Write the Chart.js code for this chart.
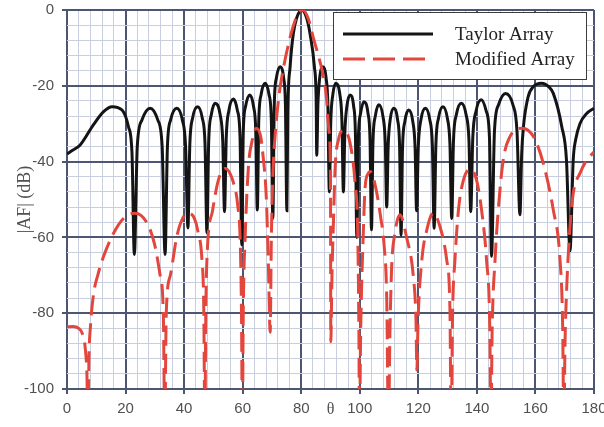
<!DOCTYPE html>
<html>
<head>
<meta charset="utf-8">
<script src="https://cdn.jsdelivr.net/npm/chart.js@4/dist/chart.umd.min.js"></script>
<style>
  html, body { margin: 0; padding: 0; background: #ffffff; }
  #wrap { position: relative; width: 604px; height: 427px; }
</style>
</head>
<body>
<div id="wrap"><canvas id="af" width="604" height="427"></canvas></div>
<script>
// Array factor |AF| (dB) versus angle theta (degrees)
const thetaTaylor = [
  0, 1.5, 4.5, 9, 12.5, 15.4, 18.8, 21, 22.2, 23,
  24, 25.6, 28.4, 31, 32.5, 33.5,
  34.3, 35.4, 37.5, 39.4, 40.5, 41.3,
  41.95, 42.9, 44.6, 46.2, 47.15, 47.8,
  48.4, 49.3, 50.6, 52.3, 53.2, 53.8,
  54.4, 55.3, 56.9, 58.2, 59.1, 59.7,
  60.2, 61, 62.4, 63.7, 64.5, 65,
  65.5, 66.3, 67.7, 69, 69.8, 70.3,
  70.8, 71.5, 72.8, 74, 74.6, 75.1,
  75.4, 76.2, 77.3, 78.5, 80.2, 81.8, 83, 84.5, 85.1, 85.3,
  85.7, 86.3, 87.4, 88.5, 89.1, 89.6,
  90.1, 90.8, 91.8, 93.2, 93.9, 94.4,
  94.9, 95.6, 96.7, 97.9, 98.5, 99,
  99.5, 100.3, 101.4, 102.8, 103.5, 104,
  104.5, 105.3, 106.5, 107.9, 108.7, 109.2,
  109.7, 110.4, 111.6, 112.9, 113.6, 114.1,
  114.6, 115.4, 116.7, 118.1, 118.9, 119.4,
  120, 120.9, 122.4, 123.9, 124.8, 125.4,
  126, 126.9, 128.4, 129.9, 130.8, 131.4,
  132, 133, 134.7, 136.3, 137.3, 137.9,
  138.6, 139.7, 141.5, 143.2, 144.3, 145,
  146, 147.4, 149.8, 152.3, 153.7, 154.7,
  155.3, 155.9, 157.5, 159.3, 162.1, 164.5, 166.1, 169, 170.6, 171.8,
  172.9, 173.8, 175.2, 177.5, 180
];
const afTaylor = [
  -38, -37.2, -35.6, -30.3, -26.8, -25.5, -26.4, -30.8, -37.8, -64.5,
  -36, -29, -25.9, -29, -36, -64.5,
  -36, -29, -25.9, -29, -36, -57.5,
  -35.5, -28.5, -25.5, -28.5, -35.5, -58.8,
  -34.6, -27.6, -24.6, -27.6, -34.6, -53.2,
  -33.5, -26.5, -23.5, -26.5, -33.5, -62,
  -32.4, -25.4, -22.4, -25.4, -32.4, -52.8,
  -29.3, -22.3, -19.3, -22.3, -29.3, -55,
  -25, -18, -15, -18, -25, -53,
  -28, -15, -6.2, -2, 0, -2, -6.2, -15, -23.7, -38.3,
  -25, -18, -15, -18, -25, -48,
  -29.3, -22.3, -19.3, -22.3, -29.3, -48,
  -32.4, -25.4, -22.4, -25.4, -32.4, -60,
  -34.2, -27.2, -24.2, -27.2, -34.2, -58,
  -35, -28, -25, -28, -35, -52,
  -35.9, -28.9, -25.9, -28.9, -35.9, -59.4,
  -36.4, -29.4, -26.4, -29.4, -36.4, -53,
  -35.9, -28.9, -25.9, -28.9, -35.9, -57.6,
  -35.5, -28.5, -25.5, -28.5, -35.5, -55,
  -34.6, -27.6, -24.6, -27.6, -34.6, -53.2,
  -33.7, -26.7, -23.7, -26.7, -33.7, -65,
  -32, -25, -22, -25, -32, -54,
  -38, -30.8, -22.9, -20.2, -19.3, -20.2, -22, -30.8, -39.6, -63.5,
  -39.6, -34, -30, -27.3, -25.9
];

const thetaModified = [
  0, 2, 4, 5.3, 6.2, 6.8, 7.2,
  7.5, 8, 9.1, 10.5, 12.5, 15.9, 19.3, 23.2, 27.2, 29.9, 31.8, 32.9, 33.4,
  33.9, 35.3, 37.5, 39.5, 41.5, 43.5, 44.6, 46.1, 46.7, 47.1,
  47.4, 47.9, 49.7, 51.7, 54, 56.9, 58.3, 59.2, 59.6, 59.9,
  60.2, 60.9, 62, 63.1, 64.7, 66.2, 66.9, 68.1, 68.8, 69.4,
  69.8, 70.4, 71.2, 72.5, 74, 75.5, 77, 78.7, 80.5, 82.5, 84.2, 86, 87.3, 88.6, 89.5, 90, 90.1,
  90.5, 91, 91.6, 92.7, 94.4, 96.7, 98.4, 99.3, 99.7, 99.9,
  100.3, 101.2, 101.8, 102.9, 103.5, 105.2, 107.2, 108.3, 109.2, 109.8,
  110.3, 110.9, 112, 113.7, 116, 118.3, 119.2, 119.5,
  119.9, 121.2, 122.9, 125.1, 127.4, 129.7, 130.8, 131.2,
  131.7, 132.5, 133.7, 135.4, 137.8, 139.9, 141.6, 143.3, 144.4, 144.8,
  145.2, 146.2, 147.3, 149, 151.3, 155.5, 159.3, 162.7, 166.1, 168.4, 169.3, 169.7,
  170.1, 170.6, 171.8, 172.9, 175.2, 177.5, 180
];
const afModified = [
  -83.6, -83.5, -84, -85.5, -89, -96, -110,
  -92, -83.6, -74.8, -70, -65, -58.9, -55, -53.6, -56, -61.8, -70, -80, -110,
  -80, -70, -59.8, -55, -53.6, -55, -58, -66, -78, -110,
  -80, -64, -53, -44.9, -41.8, -45.7, -51.5, -62, -80, -110,
  -80, -58.9, -41, -35, -31.2, -33.6, -38, -50, -67.7, -85,
  -60, -42, -32, -22, -15, -9.5, -5, -1.3, 0, -2.5, -7.5, -12.5, -16.5, -23, -32, -45, -87.5,
  -70, -56, -41.3, -34.3, -31.7, -35.2, -45.7, -58.9, -85, -110,
  -85, -58.9, -47, -43.1, -42.6, -46, -55, -62, -76, -110,
  -85, -67.7, -58.9, -54, -60, -70.4, -82, -95,
  -82, -66, -58, -53.6, -57.2, -66, -79.2, -110,
  -80, -66, -52.8, -44.9, -42, -44.9, -52.8, -66, -83.6, -110,
  -85, -66, -52.8, -39.6, -33.4, -31.2, -33.4, -40.5, -52.8, -66, -83.6, -110,
  -88, -74.8, -57.2, -48.4, -43.1, -39.6, -37.5
];

const seriesNames = ['Taylor Array', 'Modified Array'];
const xLabelTicks = [0, 20, 40, 60, 80, 100, 120, 140, 160, 180];
const yLabelTicks = [0, -20, -40, -60, -80, -100];

const MAJOR = '#4d5670';
const MINOR = '#c9cfdf';
const TICK_TEXT = '#505050';

const toPoints = (xs, ys) => xs.map((x, i) => ({ x: x, y: ys[i] }));
const isMajor = (v, list) => list.some(t => Math.abs(t - v) < 1e-6);

function gridFor(list) {
  return {
    color: c => (c.tick && isMajor(c.tick.value, list)) ? MAJOR : MINOR,
    lineWidth: c => (c.tick && isMajor(c.tick.value, list)) ? 2 : 1,
    tickColor: c => (c.tick && isMajor(c.tick.value, list)) ? MAJOR : 'rgba(0,0,0,0)',
    tickLength: 5,
    drawTicks: true
  };
}

// Boxed legend drawn inside the plot, upper right
const boxLegend = {
  id: 'boxLegend',
  afterDraw(chart) {
    const ctx = chart.ctx;
    const left = 333.5, top = 12.5, w = 253, h = 67;
    ctx.save();
    ctx.fillStyle = '#ffffff';
    ctx.fillRect(left, top, w, h);
    ctx.strokeStyle = '#3c3c3c';
    ctx.lineWidth = 1;
    ctx.strokeRect(left, top, w, h);
    const rows = [34, 59];
    const ends = [433, 425];
    chart.data.datasets.forEach((ds, i) => {
      const y = rows[i];
      ctx.beginPath();
      ctx.setLineDash(ds.borderDash ? [22, 8] : []);
      ctx.strokeStyle = ds.borderColor;
      ctx.lineWidth = ds.borderWidth;
      ctx.moveTo(343, y);
      ctx.lineTo(ends[i], y);
      ctx.stroke();
      ctx.setLineDash([]);
      ctx.fillStyle = '#222222';
      ctx.font = '19px "Liberation Serif", "DejaVu Serif", serif';
      ctx.textBaseline = 'middle';
      ctx.textAlign = 'left';
      ctx.fillText(ds.label, 455, y + 1);
    });
    ctx.restore();
  }
};

new Chart(document.getElementById('af'), {
  type: 'line',
  data: {
    datasets: [
      {
        label: seriesNames[0],
        data: toPoints(thetaTaylor, afTaylor),
        borderColor: '#141414',
        borderWidth: 3,
        pointRadius: 0,
        cubicInterpolationMode: 'monotone',
        fill: false,
        order: 1
      },
      {
        label: seriesNames[1],
        data: toPoints(thetaModified, afModified),
        borderColor: '#e2463d',
        borderWidth: 3,
        borderDash: [20, 8],
        pointRadius: 0,
        cubicInterpolationMode: 'monotone',
        fill: false,
        order: 0
      }
    ]
  },
  options: {
    responsive: false,
    animation: false,
    layout: { padding: { top: 10, right: 10, left: 0, bottom: 0 } },
    plugins: {
      legend: { display: false },
      tooltip: { enabled: false }
    },
    scales: {
      x: {
        type: 'linear',
        min: 0,
        max: 180,
        border: { display: false },
        grid: gridFor(xLabelTicks),
        ticks: {
          stepSize: 4,
          autoSkip: false,
          maxRotation: 0,
          minRotation: 0,
          padding: 6,
          color: TICK_TEXT,
          font: { family: '"Liberation Sans", Arial, sans-serif', size: 15 },
          callback: v => isMajor(v, xLabelTicks) ? String(v) : ''
        },
        title: {
          display: true,
          text: 'θ',
          color: TICK_TEXT,
          font: { family: '"Liberation Serif", serif', size: 16 },
          padding: { top: 0, bottom: 8 }
        },
        afterFit: s => {
          s.height = 38;
          s.paddingLeft = 0;
          s.paddingRight = 0;
        }
      },
      y: {
        type: 'linear',
        min: -100,
        max: 0,
        border: { display: false },
        grid: gridFor(yLabelTicks),
        ticks: {
          stepSize: 4,
          autoSkip: false,
          padding: 8,
          color: TICK_TEXT,
          font: { family: '"Liberation Sans", Arial, sans-serif', size: 15 },
          callback: v => isMajor(v, yLabelTicks) ? String(v) : ''
        },
        title: {
          display: true,
          text: '|AF| (dB)',
          color: TICK_TEXT,
          font: { family: '"Liberation Serif", serif', size: 18 },
          padding: { top: 14, bottom: 0 }
        },
        afterFit: s => {
          s.width = 67;
          s.paddingTop = 0;
          s.paddingBottom = 0;
        }
      }
    }
  },
  plugins: [boxLegend]
});
</script>
</body>
</html>
